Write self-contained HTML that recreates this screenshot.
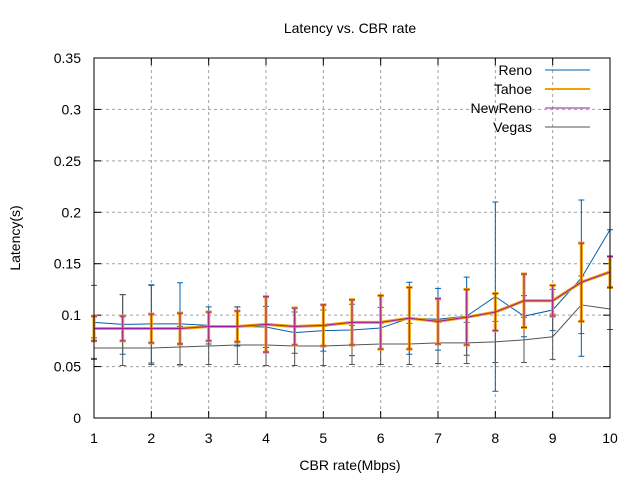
<!DOCTYPE html>
<html><head><meta charset="utf-8"><style>
body{margin:0;background:#fff}
svg{display:block;font-family:"Liberation Sans",sans-serif}
</style></head><body>
<svg id="c" width="640" height="480"></svg>
<script>
const xs=[1,1.5,2,2.5,3,3.5,4,4.5,5,5.5,6,6.5,7,7.5,8,8.5,9,9.5,10];
const reno=[.093,.091,.0915,.0915,.09,.089,.0885,.083,.085,.0856,.0875,.097,.096,.099,.118,.099,.105,.136,.183];
const renoErr=[.036,.029,.038,.04,.018,.019,.02,.02,.02,.025,.02,.035,.03,.038,.092,.02,.02,.076,0];
const tahoe=[.087,.087,.087,.087,.089,.089,.091,.089,.09,.093,.093,.097,.094,.098,.103,.114,.114,.132,.142];
const tahoeErr=[.012,.012,.014,.015,.014,.015,.027,.018,.02,.022,.026,.03,.022,.027,.018,.026,.015,.038,.015];
const newreno=[.087,.087,.087,.087,.089,.089,.091,.089,.09,.093,.093,.097,.094,.098,.103,.114,.114,.132,.142];
const newrenoErr=[.012,.012,.014,.015,.014,.015,.027,.018,.02,.022,.026,.03,.022,.027,.018,.026,.015,.038,.015];
const vegas=[.068,.068,.068,.069,.07,.071,.071,.07,.07,.071,.072,.072,.073,.073,.074,.076,.079,.11,.106];
const vegasErrHi=[.01,.052,.061,.02,.018,.037,.02,.019,.019,.019,.02,.02,.02,.02,.02,.022,.022,.028,.02];
const vegasErrLo=[.01,.017,.016,.017,.018,.019,.02,.019,.019,.019,.02,.02,.02,.02,.02,.022,.022,.028,.02];
const yTicks=[0,0.05,0.1,0.15,0.2,0.25,0.3,0.35];
const yLabels=["0","0.05","0.1","0.15","0.2","0.25","0.3","0.35"];
const xTicks=[1,2,3,4,5,6,7,8,9,10];

const L=94,R=610,T=58,B=418;
const X=v=>L+(v-1)/9*(R-L);
const Y=v=>B-v/0.35*(B-T);
const svg=document.getElementById('c');
const NS='http://www.w3.org/2000/svg';
function mk(tag,attrs,parent){const e=document.createElementNS(NS,tag);for(const k in attrs)e.setAttribute(k,attrs[k]);(parent||svg).appendChild(e);return e;}

const grid=mk('g',{});


yTicks.forEach((t,i)=>{
  if(i>0&&i<yTicks.length-1){mk('line',{x1:L,x2:R,y1:Y(t),y2:Y(t),stroke:'#a0a0a0','stroke-dasharray':'3,3'},grid);}
  mk('line',{x1:L,x2:L+7,y1:Y(t),y2:Y(t),stroke:'#000'},grid);
  mk('line',{x1:R,x2:R-7,y1:Y(t),y2:Y(t),stroke:'#000'},grid);
  const tx=mk('text',{x:L-13,y:Y(t)+5,'text-anchor':'end','font-size':14});
  tx.textContent=yLabels[i];
  
  
});
xTicks.forEach((t,i)=>{
  if(i>0&&i<xTicks.length-1){mk('line',{x1:X(t),x2:X(t),y1:T,y2:B,stroke:'#a0a0a0','stroke-dasharray':'3,3'},grid);}
  mk('line',{x1:X(t),x2:X(t),y1:B,y2:B-7,stroke:'#000'},grid);
  mk('line',{x1:X(t),x2:X(t),y1:T,y2:T+7,stroke:'#000'},grid);
  const tx=mk('text',{x:X(t),y:B+25,'text-anchor':'middle','font-size':14});
  tx.textContent=String(t);
  
  
});

function series(name,vals,errLo,errHi,color,w){
  const g=mk('g',{});
  
  
  xs.forEach((x,i)=>{
    const px=X(x),lo=Y(vals[i]-errLo[i]),hi=Y(vals[i]+errHi[i]);
    mk('path',{d:`M${px},${lo}V${hi}M${px-3},${lo}h6M${px-3},${hi}h6`,stroke:color,'stroke-width':w,fill:'none'},g);
  });
  const p=mk('polyline',{points:xs.map((x,i)=>X(x)+','+Y(vals[i])).join(' '),stroke:color,'stroke-width':w,fill:'none'},g);
  
  
}
series('reno',reno,renoErr,renoErr,'#0060ad',1);
series('vegas',vegas,vegasErrLo,vegasErrHi,'#555555',1);
series('tahoe',tahoe,tahoeErr,tahoeErr,'#f0a000',3);
series('newreno',newreno,newrenoErr,newrenoErr,'#9a1fa0',1);

mk('rect',{x:L,y:T,width:R-L,height:B-T,fill:'none',stroke:'#000'});

const leg=[['Reno','#0060ad',1],['Tahoe','#f0a000',2],['NewReno','#9a1fa0',1],['Vegas','#555555',1]];
leg.forEach((d,i)=>{
  const g=mk('g',{});
  
  
  const y=70+i*19;
  const t=mk('text',{x:532,y:y+5,'text-anchor':'end','font-size':14},g);
  t.textContent=d[0];
  mk('line',{x1:545,x2:590,y1:y,y2:y,stroke:d[1],'stroke-width':d[2]},g);
});

function t2(txt,attrs,name){const e=document.createElementNS(NS,'text');for(const k in attrs)e.setAttribute(k,attrs[k]);e.textContent=txt;


svg.appendChild(e);}
t2('Latency vs. CBR rate',{x:350,y:33,'text-anchor':'middle','font-size':14},'chart-title');
t2('CBR rate(Mbps)',{x:350,y:470,'text-anchor':'middle','font-size':14},'x-axis-title');
t2('Latency(s)',{x:0,y:0,'text-anchor':'middle','font-size':14,transform:'translate(20,238) rotate(-90)'},'y-axis-title');
</script>
</body></html>
